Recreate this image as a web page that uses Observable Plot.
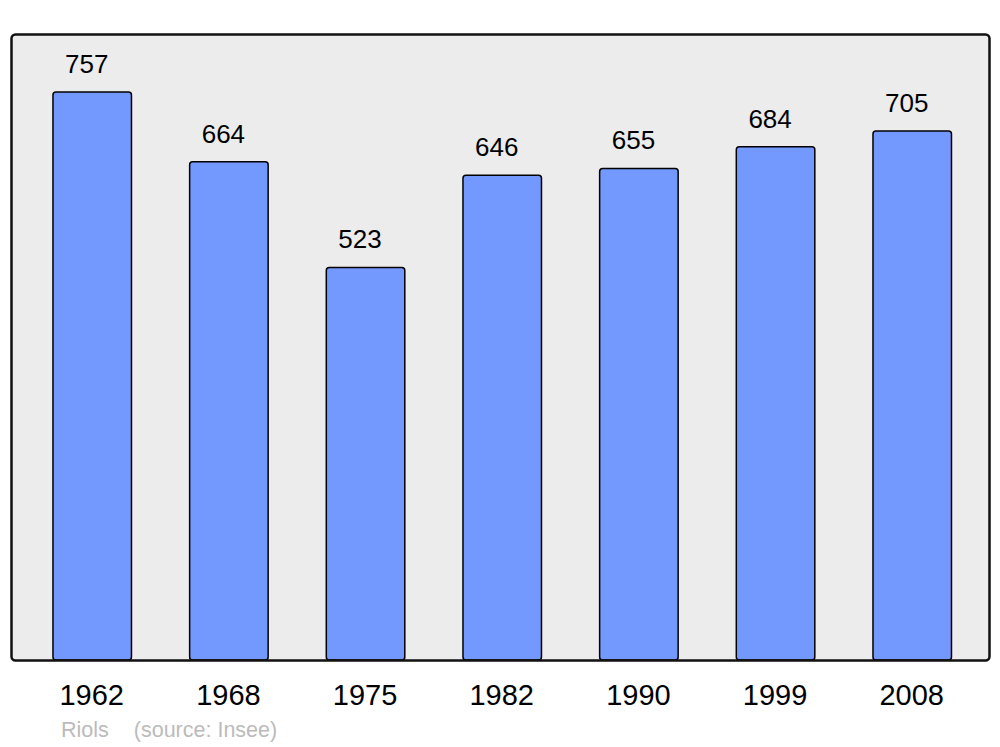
<!DOCTYPE html>
<html>
<head>
<meta charset="utf-8">
<script src="https://cdn.jsdelivr.net/npm/d3@7"></script>
<script src="https://cdn.jsdelivr.net/npm/@observablehq/plot@0.6"></script>
<style>
  html, body { margin: 0; padding: 0; background: white; }
  #chart svg { display: block; }
  #caption { height: 32px; line-height: 30px; font-family: "Liberation Sans", Arial, sans-serif; font-size: 21.5px; color: #bbbbbb; padding-left: 61px; white-space: pre; }
</style>
</head>
<body>
<div id="chart"></div>
<div id="caption"><span>Riols</span><span style="margin-left:25px">(source: Insee)</span></div>
<script>
const years = ["1962", "1968", "1975", "1982", "1990", "1999", "2008"];
const population = [757, 664, 523, 646, 655, 684, 705];

const data = years.map((y, i) => ({year: y, value: population[i]}));

const chart = Plot.plot({
  width: 1000,
  height: 715,
  marginLeft: 11,
  marginRight: 11,
  marginTop: 34,
  marginBottom: 55,
  style: {fontFamily: "'Liberation Sans', Arial, sans-serif", background: "white", overflow: "visible"},
  x: {type: "band", domain: years, paddingInner: 0.4256, paddingOuter: 0.2908, align: 0.528, round: false, axis: null},
  y: {domain: [0, 834.3], axis: null},
  marks: [
    Plot.frame({fill: "#ececec", stroke: "none", rx: 4}),
    Plot.barY(data, {x: "year", y: "value", fill: "#7399ff", stroke: "black", strokeWidth: 1.5, rx: 3}),
    Plot.frame({fill: "none", stroke: "#111", strokeWidth: 2.5, rx: 4}),
    Plot.text(data, {x: "year", y: "value", text: d => String(d.value), dx: -6, dy: -28, lineAnchor: "middle", fontSize: 26, fill: "black"}),
    Plot.text(data, {x: "year", text: "year", frameAnchor: "bottom", dx: -1, dy: 35, lineAnchor: "middle", fontSize: 29, fill: "black"})
  ]
});
document.getElementById("chart").appendChild(chart);
</script>
</body>
</html>
